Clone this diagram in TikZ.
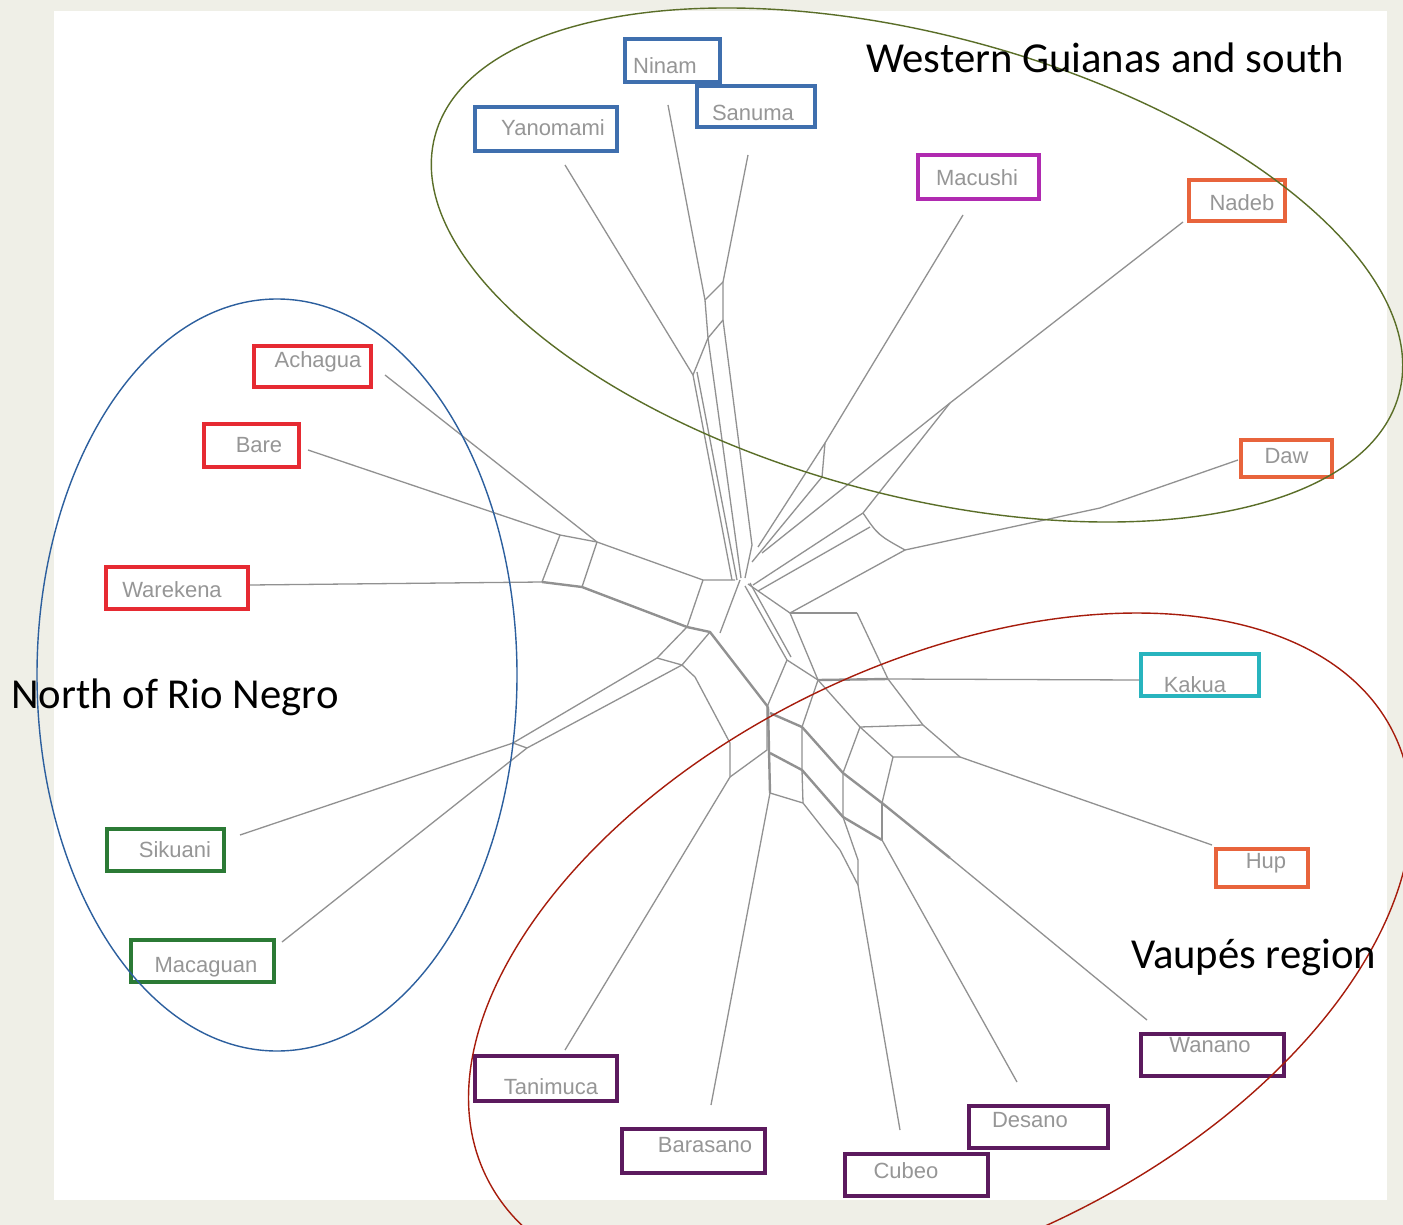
\documentclass[tikz,border=0pt]{standalone}
\usepackage{fontspec}
\setmainfont{Liberation Sans}
\newfontfamily\calib{Carlito}
\definecolor{bgc}{RGB}{239,239,231}
\definecolor{netgray}{RGB}{145,145,145}
\definecolor{txtgray}{RGB}{150,150,150}
\definecolor{cblue}{RGB}{63,111,174}
\definecolor{cmag}{RGB}{176,42,176}
\definecolor{corange}{RGB}{232,100,60}
\definecolor{cred}{RGB}{230,42,50}
\definecolor{cgreen}{RGB}{43,122,53}
\definecolor{cteal}{RGB}{40,180,190}
\definecolor{cpurple}{RGB}{92,26,94}
\definecolor{ellgreen}{RGB}{90,110,40}
\definecolor{ellblue}{RGB}{44,95,158}
\definecolor{ellred}{RGB}{166,28,12}
\begin{document}
\begin{tikzpicture}[x=1pt,y=-1pt,
  box/.style={draw, line width=3.5pt, fill=white, inner sep=0pt, rectangle},
  txt/.style={text=txtgray, font=\fontsize{22}{24}\selectfont, inner sep=0pt},
  net/.style={draw=netgray, line width=1.3pt, line join=round},
  netb/.style={net, line width=2.4pt},
  region/.style={font=\calib\fontsize{42.7}{48}\selectfont, text=black, inner sep=0pt},
  ell/.style={line width=1.4pt}]
\useasboundingbox (0,0) rectangle (1403,1225);
\clip (0,0) rectangle (1403,1225);
\fill[bgc] (0,0) rectangle (1403,1225);
\fill[white] (54,11) rectangle (1387,1200);

% ---------- network ----------
% top cluster
\draw[net] (565,165) -- (693,375) -- (732,580);
\draw[net] (668,105) -- (705,300) -- (708,338) -- (693,375);
\draw[net] (748,155) -- (723,282) -- (723,320) -- (708,338);
\draw[net] (705,300) -- (723,282);
\draw[net] (697,372) -- (737,580);
\draw[net] (708,338) -- (741,578);
\draw[net] (723,320) -- (752,545) -- (745,578);
% Macushi / Nadeb
\draw[net] (963,215) -- (825,443) -- (822,477) -- (752,562);
\draw[net] (825,443) -- (758,547);
\draw[net] (1183,222) -- (950,403) -- (762,553);
\draw[net] (950,403) -- (863,513);
% Daw
\draw[net] (1238,460) -- (1100,508) -- (905,550);
\draw[net] (863,513) .. controls (878,535) .. (905,550);
\draw[net] (863,513) -- (753,585);
\draw[net] (870,527) -- (758,591);
\draw[net] (905,550) -- (790,613);
% right centre ladders
\draw[net] (748,584) -- (790,613);
\draw[netb] (790,613) -- (857,613);
\draw[net] (857,613) -- (888,679) -- (923,725) -- (960,757) -- (1212,845);
\draw[net] (888,679) -- (1139,680);
\draw[netb] (818,680) -- (888,679);
\draw[net] (790,613) -- (818,680) -- (860,727) -- (893,757) -- (960,757);
\draw[net] (860,727) -- (923,725);
\draw[net] (818,680) -- (802,727);
\draw[net] (860,727) -- (843,773);
\draw[net] (893,757) -- (882,803);
\draw[net] (745,586) -- (787,660) -- (818,680);
\draw[net] (750,583) -- (791,657);
\draw[net] (787,660) -- (767,707);
% spines towards Vaupes
\draw[netb] (770,713) -- (802,727) -- (843,773) -- (882,803) -- (950,858);
\draw[net] (950,858) -- (1147,1020);
\draw[netb] (770,753) -- (802,770) -- (843,817) -- (882,840);
\draw[net] (882,840) -- (1017,1082);
\draw[net] (802,727) -- (802,770) -- (803,803);
\draw[net] (843,773) -- (843,817) -- (858,860) -- (858,885);
\draw[net] (882,803) -- (882,840);
\draw[net] (770,793) -- (803,803) -- (840,850) -- (858,885) -- (900,1130);
\draw[netb] (768,707) -- (770,793);
\draw[net] (770,793) -- (711,1105);
% left cluster
\draw[net] (385,375) -- (597,542) -- (703,580) -- (735,580);
\draw[net] (308,450) -- (560,535) -- (597,542);
\draw[net] (560,535) -- (542,582);
\draw[net] (597,542) -- (582,587);
\draw[net] (250,585) -- (542,582);
\draw[netb] (542,582) -- (582,587) -- (687,627) -- (710,632) -- (768,707);
\draw[net] (703,580) -- (687,627) -- (657,658) -- (513,743) -- (240,835);
\draw[net] (710,632) -- (682,665) -- (527,748) -- (282,942);
\draw[net] (513,743) -- (527,748);
\draw[net] (657,658) -- (682,665) -- (695,677) -- (730,743) -- (730,777) -- (565,1050);
\draw[net] (720,633) -- (740,580);
\draw[net] (730,777) -- (767,750) -- (767,707);

% ---------- labels ----------
\node[box, draw=cblue, minimum width=95pt, minimum height=43pt, label={[txt, xshift=-7.5pt, yshift=-5.5pt]center:Ninam}] (ninam) at (672.5,60.5) {};
\node[box, draw=cblue, minimum width=118pt, minimum height=41pt, label={[txt, xshift=-3pt, yshift=-6.5pt]center:Sanuma}] (sanuma) at (756,106.5) {};
\node[box, draw=cblue, minimum width=142pt, minimum height=44pt, label={[txt, xshift=7pt, yshift=1pt]center:Yanomami}] (yanomami) at (546,129) {};
\node[box, draw=cmag, minimum width=121pt, minimum height=44pt, label={[txt, xshift=-1.5pt, yshift=-1pt]center:Macushi}] (macushi) at (978.5,177) {};
\node[box, draw=corange, minimum width=96pt, minimum height=41pt, label={[txt, xshift=5pt, yshift=-2.5pt]center:Nadeb}] (nadeb) at (1237,200.5) {};
\node[box, draw=corange, minimum width=91pt, minimum height=37pt, label={[txt, xshift=0pt, yshift=2.5pt]center:Daw}] (daw) at (1286.5,458.5) {};
\node[box, draw=cred, minimum width=117pt, minimum height=41pt, label={[txt, xshift=5.5pt, yshift=4.5pt]center:Achagua}] (achagua) at (312.5,366.5) {};
\node[box, draw=cred, minimum width=95pt, minimum height=43pt, label={[txt, xshift=7.5pt, yshift=0.5pt]center:Bare}] (bare) at (251.5,445.5) {};
\node[box, draw=cred, minimum width=142pt, minimum height=42pt, label={[txt, xshift=-5pt, yshift=-2pt]center:Warekena}] (warekena) at (177,588) {};
\node[box, draw=cgreen, minimum width=117pt, minimum height=42pt, label={[txt, xshift=9.5pt, yshift=0pt]center:Sikuani}] (sikuani) at (165.5,850) {};
\node[box, draw=cgreen, minimum width=143pt, minimum height=42pt, label={[txt, xshift=3.5pt, yshift=-6pt]center:Macaguan}] (macaguan) at (202.5,961) {};
\node[box, draw=cteal, minimum width=118pt, minimum height=42pt, label={[txt, xshift=-5pt, yshift=-10pt]center:Kakua}] (kakua) at (1200,675) {};
\node[box, draw=corange, minimum width=92pt, minimum height=38pt, label={[txt, xshift=4pt, yshift=5pt]center:Hup}] (hup) at (1262,868) {};
\node[box, draw=cpurple, minimum width=143pt, minimum height=42pt, label={[txt, xshift=-2.5pt, yshift=10pt]center:Wanano}] (wanano) at (1212.5,1055) {};
\node[box, draw=cpurple, minimum width=142pt, minimum height=45pt, label={[txt, xshift=5pt, yshift=-8.5pt]center:Tanimuca}] (tanimuca) at (546,1078.5) {};
\node[box, draw=cpurple, minimum width=143pt, minimum height=44pt, label={[txt, xshift=11.5pt, yshift=6pt]center:Barasano}] (barasano) at (693.5,1151) {};
\node[box, draw=cpurple, minimum width=139pt, minimum height=42pt, label={[txt, xshift=-8.5pt, yshift=7pt]center:Desano}] (desano) at (1038.5,1127) {};
\node[box, draw=cpurple, minimum width=143pt, minimum height=42pt, label={[txt, xshift=-10.5pt, yshift=4pt]center:Cubeo}] (cubeo) at (916.5,1175) {};

% ---------- regions ----------
\draw[ell, ellgreen, rotate around={-15:(917,265)}] (917,265) ellipse [x radius=499pt, y radius=230pt];
\draw[ell, ellblue] (277,675) ellipse [x radius=240pt, y radius=376pt];
\draw[ell, ellred, rotate around={26:(940,955)}] (940,955) ellipse [x radius=505pt, y radius=290pt];

\node[region, anchor=base west] (wg) at (866,73) {Western Guianas and south};
\node[region, anchor=base west] (nr) at (11,708) {North of Rio Negro};
\node[region, anchor=base west] (vr) at (1131,968) {Vaupés region};
\end{tikzpicture}
\end{document}
